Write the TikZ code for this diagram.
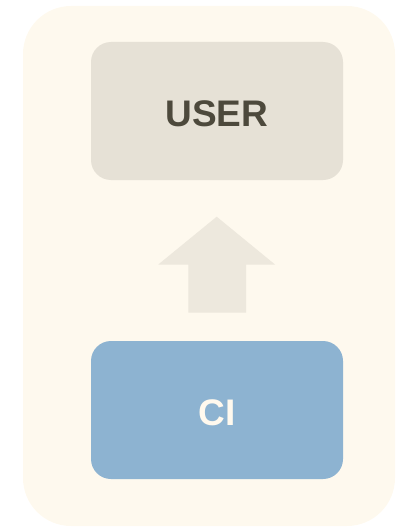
\documentclass[tikz,border=0pt]{standalone}
\usepackage{fontspec}
\setmainfont{Liberation Sans}
\definecolor{panelbg}{HTML}{FEF9EE}
\definecolor{userfill}{HTML}{E6E1D6}
\definecolor{usertext}{HTML}{4D493C}
\definecolor{arrowfill}{HTML}{EDE8DD}
\definecolor{cifill}{HTML}{8DB3D1}
\definecolor{citext}{HTML}{FFF9EE}
\begin{document}
\begin{tikzpicture}[x=1pt,y=-1pt,
  layerbox/.style={rounded corners=20pt, minimum width=252pt, minimum height=138pt,
    inner sep=0pt, text height=30.5pt, text depth=0pt,
    font=\fontsize{37}{40}\selectfont\bfseries}]
\useasboundingbox (0,0) rectangle (403,527);
% background panel
\fill[panelbg, rounded corners=48pt] (23,6) rectangle (395,526);
% layers
\node[layerbox, fill=userfill, text=usertext] (user) at (217,111) {USER};
\node[layerbox, fill=cifill, text=citext] (ci) at (217,410) {CI};
% upward block arrow between layers
\fill[arrowfill] (188.3,312.7) -- (188.3,264.5) -- (158.3,264.5) -- (216.7,216.7)
  -- (275,264.5) -- (246,264.5) -- (246,312.7) -- cycle;
\end{tikzpicture}
\end{document}
